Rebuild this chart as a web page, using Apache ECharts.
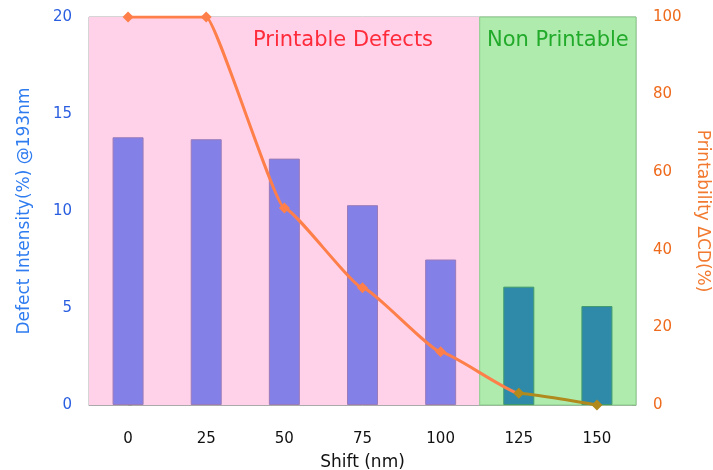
<!DOCTYPE html>
<html>
<head>
<meta charset="utf-8">
<script src="https://cdn.jsdelivr.net/npm/echarts@6/dist/echarts.min.js"></script>
<style>html,body{margin:0;padding:0;background:#fff}#c{width:713px;height:470px}</style>
</head>
<body>
<div id="c"></div>
<script>
var categories = ['0', '25', '50', '75', '100', '125', '150'];
var defectIntensity = [13.8, 13.7, 12.7, 10.3, 7.5, 6.1, 5.1];
var printability = [100, 100, 50.8, 30.2, 13.7, 3.0, 0];
var leftTicks = [0, 5, 10, 15, 20];
var rightTicks = [0, 20, 40, 60, 80, 100];
var printableRange = [-0.5, 4.5];
var nonPrintableRange = [4.5, 6.5];
var regionLabels = ['Printable Defects', 'Non Printable'];

var FONT = 'DejaVu Sans';
var chart = echarts.init(document.getElementById('c'));

var barData = defectIntensity.map(function (v, i) {
  var inNon = i >= nonPrintableRange[0];
  return { value: v, itemStyle: { color: inNon ? '#2f8aaa' : '#8380e8', borderColor: inNon ? '#3f9a6a' : '#9a7ab8', borderWidth: 1 } };
});

chart.setOption({
  animation: false,
  backgroundColor: '#ffffff',
  textStyle: { fontFamily: FONT },
  grid: { left: 89, right: 77, top: 17, bottom: 65, outerBoundsMode: 'none', containLabel: false,
          show: true, borderColor: '#aaaaaa', borderWidth: 1, backgroundColor: 'transparent' },
  xAxis: [{
    type: 'category',
    data: categories,
    name: 'Shift (nm)',
    nameLocation: 'middle',
    nameGap: 49,
    nameTextStyle: { color: '#111', fontSize: 17, fontFamily: FONT },
    axisLine: { lineStyle: { color: '#aaaaaa' } },
    axisTick: { show: false },
    axisLabel: { color: '#111', fontSize: 15, margin: 27, fontFamily: FONT }
  }, {
    type: 'value', min: printableRange[0], max: nonPrintableRange[1], show: false
  }],
  yAxis: [{
    type: 'value', min: leftTicks[0], max: leftTicks[leftTicks.length - 1], interval: 5,
    name: 'Defect Intensity(%) @193nm',
    nameLocation: 'middle', nameRotate: 90, nameGap: 56,
    nameTextStyle: { color: '#2f7cf0', fontSize: 17, fontFamily: FONT },
    axisLine: { show: false },
    axisTick: { show: true, inside: true, length: 4, lineStyle: { color: '#999' } },
    splitLine: { show: false },
    axisLabel: { color: '#2a5ee0', fontSize: 15, margin: 17, fontFamily: FONT }
  }, {
    type: 'value', min: rightTicks[0], max: rightTicks[rightTicks.length - 1], interval: 20,
    name: 'Printability \u0394CD(%)',
    nameLocation: 'middle', nameRotate: -90, nameGap: 58,
    nameTextStyle: { color: '#f27a30', fontSize: 17, fontFamily: FONT },
    axisLine: { show: false },
    axisTick: { show: true, inside: true, length: 4, lineStyle: { color: '#999' } },
    splitLine: { show: false },
    axisLabel: { color: '#ee6a1c', fontSize: 15, margin: 17, fontFamily: FONT }
  }],
  visualMap: {
    show: false, type: 'piecewise', seriesIndex: 2, dimension: 0,
    pieces: [
      { gte: 0, lt: nonPrintableRange[0], color: '#ff7f4a' },
      { gte: nonPrintableRange[0], lte: categories.length - 1, color: '#b08a1c' }
    ],
    outOfRange: { color: '#ff7f4a' }
  },
  series: [{
    type: 'line', xAxisIndex: 1, yAxisIndex: 0, z: 0, silent: true,
    data: [[printableRange[0], 0], [nonPrintableRange[1], 0]],
    symbol: 'none', lineStyle: { opacity: 0 },
    markArea: {
      silent: true,
      data: [
        [{ coord: [printableRange[0], leftTicks[0]], itemStyle: { color: '#ffd2e9' } },
         { coord: [printableRange[1], leftTicks[leftTicks.length - 1]] }],
        [{ coord: [nonPrintableRange[0], leftTicks[0]], itemStyle: { color: '#aeebad', borderColor: '#88cc88', borderWidth: 1 },
           name: regionLabels[1],
           label: { show: true, position: 'insideTop', distance: 14, color: '#22aa2a', fontSize: 21, fontFamily: FONT } },
         { coord: [nonPrintableRange[1], leftTicks[leftTicks.length - 1]] }]
      ]
    }
  }, {
    type: 'bar', xAxisIndex: 0, yAxisIndex: 0, data: barData, barWidth: 31, z: 2
  }, {
    type: 'line', xAxisIndex: 0, yAxisIndex: 1, data: printability, z: 3,
    smooth: 0.12, smoothMonotone: 'x',
    symbol: 'diamond', symbolSize: 11,
    lineStyle: { width: 3 }
  }],
  graphic: [{
    type: 'text', left: 253, top: 30, z: 10,
    style: { text: regionLabels[0], fill: '#ff2a3a', fontSize: 21, fontFamily: FONT }
  }]
});
</script>
</body>
</html>
